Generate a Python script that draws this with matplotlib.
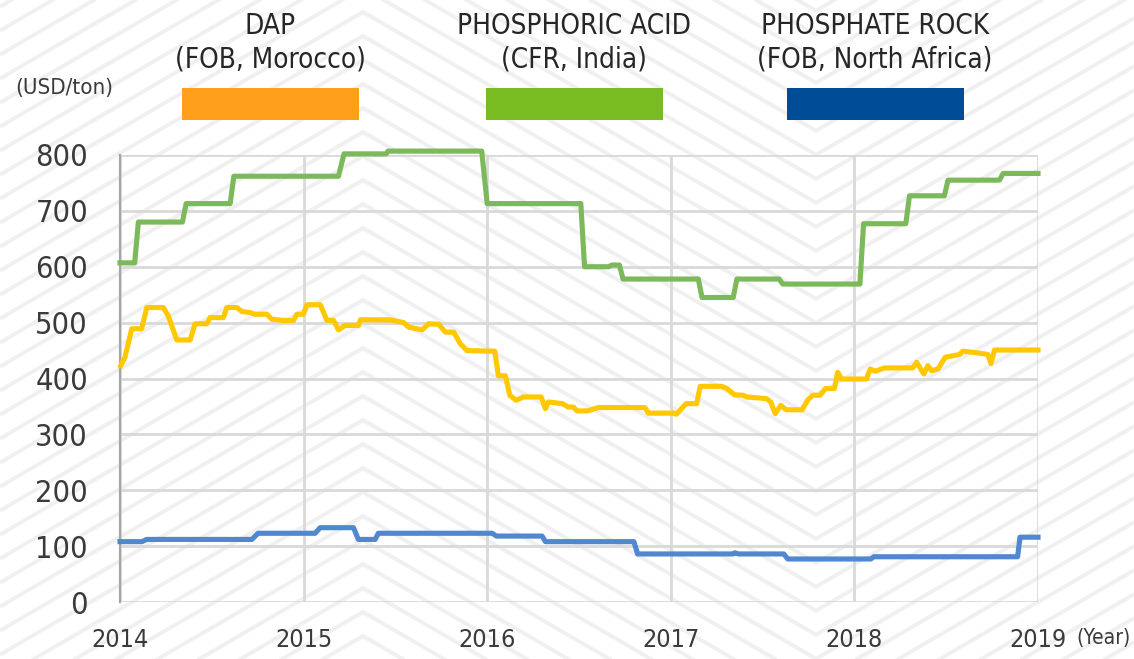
import numpy as np
import matplotlib
matplotlib.use("Agg")
import matplotlib.pyplot as plt
from matplotlib.patches import Rectangle

plt.rcParams['font.family'] = ['DejaVu Sans']
plt.rcParams['font.stretch'] = 'condensed'

W, H = 1134, 659

# --- data (decimal year, USD/ton) ---
acid_year = [2014.00, 2014.08, 2014.10, 2014.34, 2014.36, 2014.60, 2014.62, 2015.19,
             2015.22, 2015.45, 2015.46, 2015.97, 2016.00, 2016.51, 2016.53, 2016.66,
             2016.68, 2016.72, 2016.74, 2017.15, 2017.17, 2017.34, 2017.36, 2017.59,
             2017.61, 2018.03, 2018.05, 2018.28, 2018.30, 2018.49, 2018.51, 2018.79,
             2018.81, 2019.00]
acid_price = [607, 607, 680, 680, 713, 713, 762, 762,
              802, 802, 807, 807, 713, 713, 600, 600,
              603, 603, 578, 578, 545, 545, 578, 578,
              569, 569, 677, 677, 727, 727, 755, 755,
              767, 767]

dap_year = [2014.004, 2014.027, 2014.064, 2014.118, 2014.146, 2014.236, 2014.263, 2014.309,
            2014.382, 2014.409, 2014.473, 2014.491, 2014.563, 2014.582, 2014.636, 2014.664,
            2014.709, 2014.736, 2014.800, 2014.827, 2014.890, 2014.945, 2014.963, 2014.999,
            2015.018, 2015.091, 2015.127, 2015.163, 2015.190, 2015.227, 2015.299, 2015.309,
            2015.472, 2015.545, 2015.572, 2015.645, 2015.681, 2015.736, 2015.772, 2015.817,
            2015.854, 2015.890, 2016.008, 2016.041, 2016.061, 2016.099, 2016.123, 2016.158,
            2016.197, 2016.294, 2016.317, 2016.333, 2016.410, 2016.440, 2016.469, 2016.489,
            2016.546, 2016.606, 2016.859, 2016.878, 2017.015, 2017.030, 2017.083, 2017.141,
            2017.160, 2017.277, 2017.306, 2017.346, 2017.394, 2017.413, 2017.521, 2017.544,
            2017.569, 2017.599, 2017.628, 2017.715, 2017.745, 2017.773, 2017.813, 2017.842,
            2017.891, 2017.909, 2017.930, 2018.066, 2018.086, 2018.114, 2018.164, 2018.318,
            2018.339, 2018.378, 2018.400, 2018.420, 2018.455, 2018.495, 2018.573, 2018.591,
            2018.689, 2018.727, 2018.744, 2018.763, 2019.000]
dap_price = [423, 438, 489, 489, 527, 527, 512, 469,
             469, 498, 498, 509, 509, 527, 527, 520,
             518, 515, 515, 506, 504, 504, 515, 515,
             532, 532, 504, 504, 487, 495, 495, 505,
             505, 500, 492, 487, 498, 497, 483, 483,
             462, 450, 449, 449, 405, 405, 370, 361,
             367, 367, 346, 358, 355, 349, 349, 342,
             342, 348, 348, 338, 338, 336, 355, 355,
             386, 386, 382, 371, 370, 367, 364, 358,
             337, 352, 344, 344, 361, 370, 370, 382,
             382, 411, 399, 399, 417, 413, 419, 419,
             429, 408, 423, 414, 417, 438, 443, 449,
             445, 443, 427, 451, 451]

rock_year = [2014.00, 2014.12, 2014.145, 2014.718, 2014.752, 2015.063, 2015.090, 2015.272,
             2015.298, 2015.390, 2015.407, 2016.027, 2016.050, 2016.299, 2016.317, 2016.799,
             2016.819, 2017.337, 2017.348, 2017.37, 2017.615, 2017.637, 2018.089, 2018.106,
             2018.889, 2018.902, 2019.00]
rock_price = [108, 108, 112, 112, 123, 123, 133, 133,
              112, 112, 123, 123, 118, 118, 108, 108,
              86, 86, 88, 86, 86, 77, 77, 81,
              81, 116, 116]

series_titles = ["DAP\n(FOB, Morocco)", "PHOSPHORIC ACID\n(CFR, India)",
                 "PHOSPHATE ROCK\n(FOB, North Africa)"]
years = [2014, 2015, 2016, 2017, 2018, 2019]
y_ticks = [0, 100, 200, 300, 400, 500, 600, 700, 800]


def fx(x):
    return x / W


def fy(y):
    return 1 - y / H


fig = plt.figure(figsize=(W / 100, H / 100), dpi=100)
fig.patch.set_facecolor("white")

# background chevron stripes (pixel coords)
bg = fig.add_axes([0, 0, 1, 1], zorder=0)
bg.set_xlim(0, W)
bg.set_ylim(H, 0)
bg.axis("off")
px = np.array([0, 363, 816, W])
tri = np.array([363, 0, 453, 453 - (W - 816)])
for c in np.arange(-300, 700, 24):
    bg.plot(px, c + 0.58 * tri, color="#f0f0f0", lw=2.8, solid_capstyle="butt")

# main chart
ax = fig.add_axes([fx(120), fy(602), fx(1038) - fx(120), fy(155) - fy(602)], zorder=1)
ax.set_facecolor("none")
ax.set_xlim(2014, 2019)
ax.set_ylim(0, 800)
ax.set_xticks(years)
ax.set_yticks(y_ticks)
ax.grid(True, color="#d9d9d9", lw=2)
ax.set_axisbelow(True)
for s in ["top", "right", "bottom"]:
    ax.spines[s].set_visible(False)
ax.spines["left"].set_color("#a6a6a6")
ax.spines["left"].set_linewidth(1.6)
ax.tick_params(axis="both", length=0, colors="#3a3a3a")
ax.tick_params(axis="y", labelsize=22, pad=23)
ax.tick_params(axis="x", labelsize=18, pad=19)

lw = 3.7
ax.plot(acid_year, acid_price, color="#7cb95b", lw=lw, clip_on=False, zorder=3)
ax.plot(dap_year, dap_price, color="#ffc800", lw=lw, clip_on=False, zorder=3)
ax.plot(rock_year, rock_price, color="#5088d0", lw=lw, clip_on=False, zorder=3)

# legend-like header
centers = [270, 574, 875]
bar_colors = ["#ff9f1c", "#78bc22", "#004c97"]
for cx, title, col in zip(centers, series_titles, bar_colors):
    fig.text(fx(cx), fy(43), title, ha="center", va="center", fontsize=20,
             color="#262626", linespacing=1.25)
    fig.add_artist(Rectangle((fx(cx - 88.5), fy(120)), fx(177), fy(88) - fy(120),
                             transform=fig.transFigure, color=col, lw=0))

fig.text(fx(15), fy(88), "(USD/ton)", ha="left", va="center", fontsize=16, color="#3a3a3a")
fig.text(fx(1076), fy(638), "(Year)", ha="left", va="center", fontsize=15, color="#3a3a3a")

fig.savefig("out.png", dpi=100)
